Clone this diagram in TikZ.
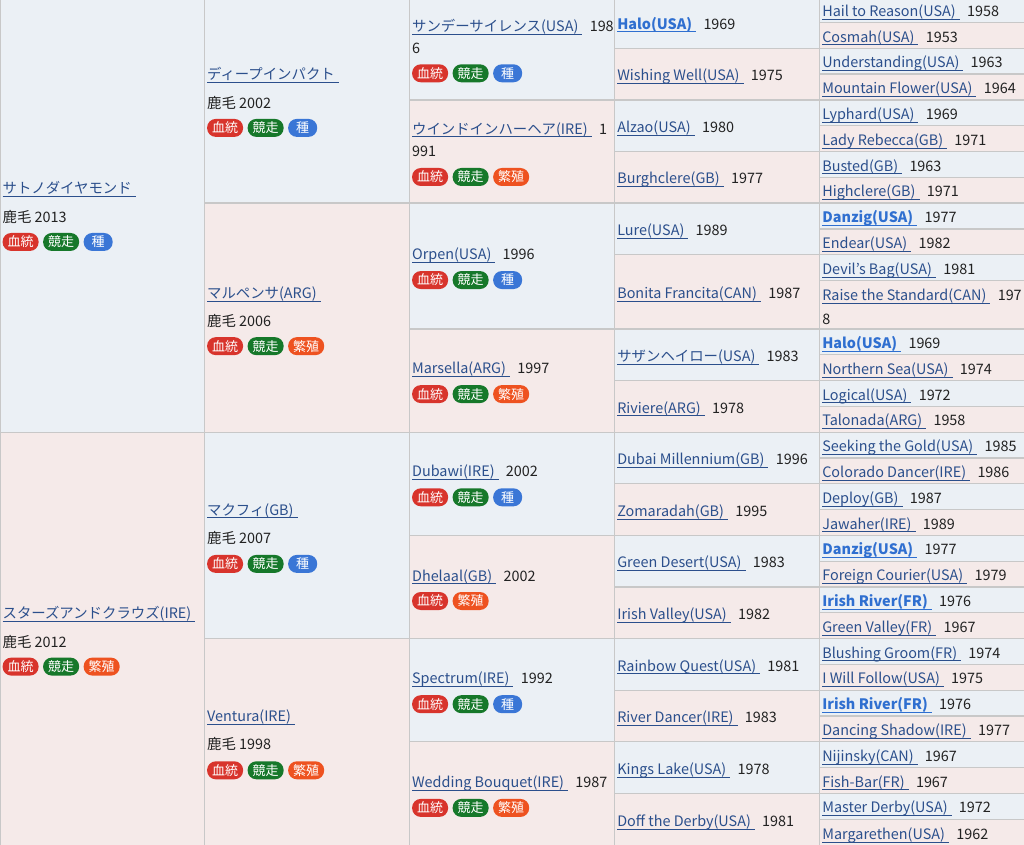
\documentclass[tikz,border=0pt]{standalone}
\usepackage{fontspec}
\setmainfont{Noto Sans CJK JP}
\usetikzlibrary{positioning,fit,calc}

\definecolor{sirebg}{HTML}{EBF0F5}
\definecolor{dambg}{HTML}{F5EAE9}
\definecolor{gridc}{HTML}{C8C8C8}
\definecolor{linkc}{HTML}{2B4F8C}
\definecolor{boldc}{HTML}{2F6FD0}
\definecolor{txt}{HTML}{222222}
\definecolor{tagred}{HTML}{D8342C}
\definecolor{taggreen}{HTML}{16782A}
\definecolor{tagblue}{HTML}{3A76D6}
\definecolor{tagorange}{HTML}{EE5220}

% underlined horse name, year follows
\newcommand\hname[1]{{\color{linkc}\setbox0\hbox{#1\hspace{3pt}}\rlap{\rule[-2.4pt]{\wd0}{0.7pt}}\box0}\hspace{5.5pt}}
\newcommand\bname[1]{{\bfseries\color{boldc}\setbox0\hbox{#1\hspace{3pt}}\rlap{\rule[-2.4pt]{\wd0}{0.7pt}}\box0}\hspace{5.5pt}}

\begin{document}
\begin{tikzpicture}
    [x=0.75pt, y=-0.75pt,
    cell/.style={
      rectangle,
      inner sep=0pt,
      draw=gridc, line width=1pt, fill=#1
      },
    cell/.default=sirebg,
    nm/.style={
      anchor=west, inner sep=0pt,
      text height=11.5pt, text depth=1.5pt, text=txt,
      font=\fontsize{10.8}{13}\selectfont
      },
    tag/.style={
      rectangle, rounded corners=6.5pt,
      anchor=west, inner xsep=3.75pt, inner ysep=0pt,
      minimum height=13.5pt, minimum width=21.75pt,
      fill=#1, text=white,
      font=\fontsize{9.75}{10}\selectfont
      },
    node distance=3pt]

    \useasboundingbox (0,0) rectangle (1024,845);

    % 1st generation
    \node (a1) [cell=sirebg, fit={(0,-3.3) (204.5,432.2)}] {};
    \node (a2) [cell=dambg,  fit={(0,432.2) (204.5,846)}] {};

    % 2nd generation
    \node (b1) [cell=sirebg, fit={(204.5,-3.3) (409.5,203.1)}] {};
    \node (b2) [cell=dambg,  fit={(204.5,203.1) (409.5,432.2)}] {};
    \node (b3) [cell=sirebg, fit={(204.5,432.2) (409.5,638.6)}] {};
    \node (b4) [cell=dambg,  fit={(204.5,638.6) (409.5,846)}] {};

    % 3rd generation
    \node (c1) [cell=sirebg, fit={(409.5,-3.3) (614.7,99.9)}] {};
    \node (c2) [cell=dambg,  fit={(409.5,99.9) (614.7,203.1)}] {};
    \node (c3) [cell=sirebg, fit={(409.5,203.1) (614.7,329.0)}] {};
    \node (c4) [cell=dambg,  fit={(409.5,329.0) (614.7,432.2)}] {};
    \node (c5) [cell=sirebg, fit={(409.5,432.2) (614.7,535.4)}] {};
    \node (c6) [cell=dambg,  fit={(409.5,535.4) (614.7,638.6)}] {};
    \node (c7) [cell=sirebg, fit={(409.5,638.6) (614.7,741.8)}] {};
    \node (c8) [cell=dambg,  fit={(409.5,741.8) (614.7,846)}] {};

    % 4th generation
    \node (d1)  [cell=sirebg, fit={(614.7,-3.3) (819.7,48.3)}] {};
    \node (d2)  [cell=dambg,  fit={(614.7,48.3) (819.7,99.9)}] {};
    \node (d3)  [cell=sirebg, fit={(614.7,99.9) (819.7,151.5)}] {};
    \node (d4)  [cell=dambg,  fit={(614.7,151.5) (819.7,203.1)}] {};
    \node (d5)  [cell=sirebg, fit={(614.7,203.1) (819.7,254.7)}] {};
    \node (d6)  [cell=dambg,  fit={(614.7,254.7) (819.7,329.0)}] {};
    \node (d7)  [cell=sirebg, fit={(614.7,329.0) (819.7,380.6)}] {};
    \node (d8)  [cell=dambg,  fit={(614.7,380.6) (819.7,432.2)}] {};
    \node (d9)  [cell=sirebg, fit={(614.7,432.2) (819.7,483.8)}] {};
    \node (d10) [cell=dambg,  fit={(614.7,483.8) (819.7,535.4)}] {};
    \node (d11) [cell=sirebg, fit={(614.7,535.4) (819.7,587.0)}] {};
    \node (d12) [cell=dambg,  fit={(614.7,587.0) (819.7,638.6)}] {};
    \node (d13) [cell=sirebg, fit={(614.7,638.6) (819.7,690.2)}] {};
    \node (d14) [cell=dambg,  fit={(614.7,690.2) (819.7,741.8)}] {};
    \node (d15) [cell=sirebg, fit={(614.7,741.8) (819.7,793.4)}] {};
    \node (d16) [cell=dambg,  fit={(614.7,793.4) (819.7,846)}] {};

    % 5th generation
    \node (e1)  [cell=sirebg, fit={(819.7,-3.3) (1025,22.5)}] {};
    \node (e2)  [cell=dambg,  fit={(819.7,22.5) (1025,48.3)}] {};
    \node (e3)  [cell=sirebg, fit={(819.7,48.3) (1025,74.1)}] {};
    \node (e4)  [cell=dambg,  fit={(819.7,74.1) (1025,99.9)}] {};
    \node (e5)  [cell=sirebg, fit={(819.7,99.9) (1025,125.7)}] {};
    \node (e6)  [cell=dambg,  fit={(819.7,125.7) (1025,151.5)}] {};
    \node (e7)  [cell=sirebg, fit={(819.7,151.5) (1025,177.3)}] {};
    \node (e8)  [cell=dambg,  fit={(819.7,177.3) (1025,203.1)}] {};
    \node (e9)  [cell=sirebg, fit={(819.7,203.1) (1025,228.9)}] {};
    \node (e10) [cell=dambg,  fit={(819.7,228.9) (1025,254.7)}] {};
    \node (e11) [cell=sirebg, fit={(819.7,254.7) (1025,280.5)}] {};
    \node (e12) [cell=dambg,  fit={(819.7,280.5) (1025,329.0)}] {};
    \node (e13) [cell=sirebg, fit={(819.7,329.0) (1025,354.8)}] {};
    \node (e14) [cell=dambg,  fit={(819.7,354.8) (1025,380.6)}] {};
    \node (e15) [cell=sirebg, fit={(819.7,380.6) (1025,406.4)}] {};
    \node (e16) [cell=dambg,  fit={(819.7,406.4) (1025,432.2)}] {};
    \node (e17) [cell=sirebg, fit={(819.7,432.2) (1025,458.0)}] {};
    \node (e18) [cell=dambg,  fit={(819.7,458.0) (1025,483.8)}] {};
    \node (e19) [cell=sirebg, fit={(819.7,483.8) (1025,509.6)}] {};
    \node (e20) [cell=dambg,  fit={(819.7,509.6) (1025,535.4)}] {};
    \node (e21) [cell=sirebg, fit={(819.7,535.4) (1025,561.2)}] {};
    \node (e22) [cell=dambg,  fit={(819.7,561.2) (1025,587.0)}] {};
    \node (e23) [cell=sirebg, fit={(819.7,587.0) (1025,612.8)}] {};
    \node (e24) [cell=dambg,  fit={(819.7,612.8) (1025,638.6)}] {};
    \node (e25) [cell=sirebg, fit={(819.7,638.6) (1025,664.4)}] {};
    \node (e26) [cell=dambg,  fit={(819.7,664.4) (1025,690.2)}] {};
    \node (e27) [cell=sirebg, fit={(819.7,690.2) (1025,716.0)}] {};
    \node (e28) [cell=dambg,  fit={(819.7,716.0) (1025,741.8)}] {};
    \node (e29) [cell=sirebg, fit={(819.7,741.8) (1025,767.6)}] {};
    \node (e30) [cell=dambg,  fit={(819.7,767.6) (1025,793.4)}] {};
    \node (e31) [cell=sirebg, fit={(819.7,793.4) (1025,819.2)}] {};
    \node (e32) [cell=dambg,  fit={(819.7,819.2) (1025,846)}] {};

    % texts, 1st generation
    \node (a1n)  [nm] at ($(a1.west)+(3,-27.5)$) {\hname{サトノダイヤモンド}};
    \node (a1y)  [nm] at ($(a1.west)+(3,1.5)$) {鹿毛 2013};
    \node (a1t1) [tag=tagred] at ($(a1.west)+(3,27.5)$) {血統};
    \node (a1t2) [tag=taggreen, right=of a1t1] {競走};
    \node (a1t3) [tag=tagblue, right=of a1t2] {種};

    \node (a2n)  [nm] at ($(a2.west)+(3,-27)$) {\hname{スターズアンドクラウズ(IRE)}};
    \node (a2y)  [nm] at ($(a2.west)+(3,1.5)$) {鹿毛 2012};
    \node (a2t1) [tag=tagred] at ($(a2.west)+(3,27.5)$) {血統};
    \node (a2t2) [tag=taggreen, right=of a2t1] {競走};
    \node (a2t3) [tag=tagorange, right=of a2t2] {繁殖};

    % 2nd generation
    \node (b1n)  [nm] at ($(b1.west)+(3,-27)$) {\hname{ディープインパクト}};
    \node (b1y)  [nm] at ($(b1.west)+(3,1.5)$) {鹿毛 2002};
    \node (b1t1) [tag=tagred] at ($(b1.west)+(3,28)$) {血統};
    \node (b1t2) [tag=taggreen, right=of b1t1] {競走};
    \node (b1t3) [tag=tagblue, right=of b1t2] {種};

    \node (b2n)  [nm] at ($(b2.west)+(3,-26)$) {\hname{マルペンサ(ARG)}};
    \node (b2y)  [nm] at ($(b2.west)+(3,2)$) {鹿毛 2006};
    \node (b2t1) [tag=tagred] at ($(b2.west)+(3,28.5)$) {血統};
    \node (b2t2) [tag=taggreen, right=of b2t1] {競走};
    \node (b2t3) [tag=tagorange, right=of b2t2] {繁殖};

    \node (b3n)  [nm] at ($(b3.west)+(3,-27)$) {\hname{マクフィ(GB)}};
    \node (b3y)  [nm] at ($(b3.west)+(3,1.5)$) {鹿毛 2007};
    \node (b3t1) [tag=tagred] at ($(b3.west)+(3,28.5)$) {血統};
    \node (b3t2) [tag=taggreen, right=of b3t1] {競走};
    \node (b3t3) [tag=tagblue, right=of b3t2] {種};

    \node (b4n)  [nm] at ($(b4.west)+(3,-27)$) {\hname{Ventura(IRE)}};
    \node (b4y)  [nm] at ($(b4.west)+(3,1)$) {鹿毛 1998};
    \node (b4t1) [tag=tagred] at ($(b4.west)+(3,28)$) {血統};
    \node (b4t2) [tag=taggreen, right=of b4t1] {競走};
    \node (b4t3) [tag=tagorange, right=of b4t2] {繁殖};

    % 3rd generation
    \node (c1n)  [nm] at ($(c1.west)+(3,-23.5)$) {\hname{サンデーサイレンス(USA)}198};
    \node (c1m)  [nm] at ($(c1.west)+(3,-1.5)$) {6};
    \node (c1t1) [tag=tagred] at ($(c1.west)+(3,25)$) {血統};
    \node (c1t2) [tag=taggreen, right=of c1t1] {競走};
    \node (c1t3) [tag=tagblue, right=of c1t2] {種};

    \node (c2n)  [nm] at ($(c2.west)+(3,-24)$) {\hname{ウインドインハーヘア(IRE)}1};
    \node (c2m)  [nm] at ($(c2.west)+(3,-2)$) {991};
    \node (c2t1) [tag=tagred] at ($(c2.west)+(3,25.5)$) {血統};
    \node (c2t2) [tag=taggreen, right=of c2t1] {競走};
    \node (c2t3) [tag=tagorange, right=of c2t2] {繁殖};

    \node (c3n)  [nm] at ($(c3.west)+(3,-13)$) {\hname{Orpen(USA)}1996};
    \node (c3t1) [tag=tagred] at ($(c3.west)+(3,14)$) {血統};
    \node (c3t2) [tag=taggreen, right=of c3t1] {競走};
    \node (c3t3) [tag=tagblue, right=of c3t2] {種};

    \node (c4n)  [nm] at ($(c4.west)+(3,-13.5)$) {\hname{Marsella(ARG)}1997};
    \node (c4t1) [tag=tagred] at ($(c4.west)+(3,13.5)$) {血統};
    \node (c4t2) [tag=taggreen, right=of c4t1] {競走};
    \node (c4t3) [tag=tagorange, right=of c4t2] {繁殖};

    \node (c5n)  [nm] at ($(c5.west)+(3,-13.5)$) {\hname{Dubawi(IRE)}2002};
    \node (c5t1) [tag=tagred] at ($(c5.west)+(3,13.5)$) {血統};
    \node (c5t2) [tag=taggreen, right=of c5t1] {競走};
    \node (c5t3) [tag=tagblue, right=of c5t2] {種};

    \node (c6n)  [nm] at ($(c6.west)+(3,-12.5)$) {\hname{Dhelaal(GB)}2002};
    \node (c6t1) [tag=tagred] at ($(c6.west)+(3,14)$) {血統};
    \node (c6t2) [tag=tagorange, right=of c6t1] {繁殖};

    \node (c7n)  [nm] at ($(c7.west)+(3,-13)$) {\hname{Spectrum(IRE)}1992};
    \node (c7t1) [tag=tagred] at ($(c7.west)+(3,14)$) {血統};
    \node (c7t2) [tag=taggreen, right=of c7t1] {競走};
    \node (c7t3) [tag=tagblue, right=of c7t2] {種};

    \node (c8n)  [nm] at ($(c8.west)+(3,-13)$) {\hname{Wedding Bouquet(IRE)}1987};
    \node (c8t1) [tag=tagred] at ($(c8.west)+(3,14)$) {血統};
    \node (c8t2) [tag=taggreen, right=of c8t1] {競走};
    \node (c8t3) [tag=tagorange, right=of c8t2] {繁殖};

    % 4th generation
    \node (d1n)  [nm] at ($(d1.west)+(3,0)$)  {\bname{Halo(USA)}1969};
    \node (d2n)  [nm] at ($(d2.west)+(3,0)$)  {\hname{Wishing Well(USA)}1975};
    \node (d3n)  [nm] at ($(d3.west)+(3,0)$)  {\hname{Alzao(USA)}1980};
    \node (d4n)  [nm] at ($(d4.west)+(3,0)$)  {\hname{Burghclere(GB)}1977};
    \node (d5n)  [nm] at ($(d5.west)+(3,0)$)  {\hname{Lure(USA)}1989};
    \node (d6n)  [nm] at ($(d6.west)+(3,0)$)  {\hname{Bonita Francita(CAN)}1987};
    \node (d7n)  [nm] at ($(d7.west)+(3,0)$)  {\hname{サザンヘイロー(USA)}1983};
    \node (d8n)  [nm] at ($(d8.west)+(3,0)$)  {\hname{Riviere(ARG)}1978};
    \node (d9n)  [nm] at ($(d9.west)+(3,0)$)  {\hname{Dubai Millennium(GB)}1996};
    \node (d10n) [nm] at ($(d10.west)+(3,0)$) {\hname{Zomaradah(GB)}1995};
    \node (d11n) [nm] at ($(d11.west)+(3,0)$) {\hname{Green Desert(USA)}1983};
    \node (d12n) [nm] at ($(d12.west)+(3,0)$) {\hname{Irish Valley(USA)}1982};
    \node (d13n) [nm] at ($(d13.west)+(3,0)$) {\hname{Rainbow Quest(USA)}1981};
    \node (d14n) [nm] at ($(d14.west)+(3,0)$) {\hname{River Dancer(IRE)}1983};
    \node (d15n) [nm] at ($(d15.west)+(3,0)$) {\hname{Kings Lake(USA)}1978};
    \node (d16n) [nm] at ($(d16.west)+(3,0)$) {\hname{Doff the Derby(USA)}1981};

    % 5th generation
    \node (e1n)  [nm] at ($(e1.west)+(3,0)$)  {\hname{Hail to Reason(USA)}1958};
    \node (e2n)  [nm] at ($(e2.west)+(3,0)$)  {\hname{Cosmah(USA)}1953};
    \node (e3n)  [nm] at ($(e3.west)+(3,0)$)  {\hname{Understanding(USA)}1963};
    \node (e4n)  [nm] at ($(e4.west)+(3,0)$)  {\hname{Mountain Flower(USA)}1964};
    \node (e5n)  [nm] at ($(e5.west)+(3,0)$)  {\hname{Lyphard(USA)}1969};
    \node (e6n)  [nm] at ($(e6.west)+(3,0)$)  {\hname{Lady Rebecca(GB)}1971};
    \node (e7n)  [nm] at ($(e7.west)+(3,0)$)  {\hname{Busted(GB)}1963};
    \node (e8n)  [nm] at ($(e8.west)+(3,0)$)  {\hname{Highclere(GB)}1971};
    \node (e9n)  [nm] at ($(e9.west)+(3,0)$)  {\bname{Danzig(USA)}1977};
    \node (e10n) [nm] at ($(e10.west)+(3,0)$) {\hname{Endear(USA)}1982};
    \node (e11n) [nm] at ($(e11.west)+(3,0)$) {\hname{Devil’s Bag(USA)}1981};
    \node (e12n) [nm] at ($(e12.west)+(3,-11)$) {\hname{Raise the Standard(CAN)}197};
    \node (e12m) [nm] at ($(e12.west)+(3,13)$) {8};
    \node (e13n) [nm] at ($(e13.west)+(3,0)$) {\bname{Halo(USA)}1969};
    \node (e14n) [nm] at ($(e14.west)+(3,0)$) {\hname{Northern Sea(USA)}1974};
    \node (e15n) [nm] at ($(e15.west)+(3,0)$) {\hname{Logical(USA)}1972};
    \node (e16n) [nm] at ($(e16.west)+(3,0)$) {\hname{Talonada(ARG)}1958};
    \node (e17n) [nm] at ($(e17.west)+(3,0)$) {\hname{Seeking the Gold(USA)}1985};
    \node (e18n) [nm] at ($(e18.west)+(3,0)$) {\hname{Colorado Dancer(IRE)}1986};
    \node (e19n) [nm] at ($(e19.west)+(3,0)$) {\hname{Deploy(GB)}1987};
    \node (e20n) [nm] at ($(e20.west)+(3,0)$) {\hname{Jawaher(IRE)}1989};
    \node (e21n) [nm] at ($(e21.west)+(3,0)$) {\bname{Danzig(USA)}1977};
    \node (e22n) [nm] at ($(e22.west)+(3,0)$) {\hname{Foreign Courier(USA)}1979};
    \node (e23n) [nm] at ($(e23.west)+(3,0)$) {\bname{Irish River(FR)}1976};
    \node (e24n) [nm] at ($(e24.west)+(3,0)$) {\hname{Green Valley(FR)}1967};
    \node (e25n) [nm] at ($(e25.west)+(3,0)$) {\hname{Blushing Groom(FR)}1974};
    \node (e26n) [nm] at ($(e26.west)+(3,0)$) {\hname{I Will Follow(USA)}1975};
    \node (e27n) [nm] at ($(e27.west)+(3,0)$) {\bname{Irish River(FR)}1976};
    \node (e28n) [nm] at ($(e28.west)+(3,0)$) {\hname{Dancing Shadow(IRE)}1977};
    \node (e29n) [nm] at ($(e29.west)+(3,0)$) {\hname{Nijinsky(CAN)}1967};
    \node (e30n) [nm] at ($(e30.west)+(3,0)$) {\hname{Fish-Bar(FR)}1967};
    \node (e31n) [nm] at ($(e31.west)+(3,0)$) {\hname{Master Derby(USA)}1972};
    \node (e32n) [nm] at ($(e32.west)+(3,0)$) {\hname{Margarethen(USA)}1962};

  \end{tikzpicture}
\end{document}
